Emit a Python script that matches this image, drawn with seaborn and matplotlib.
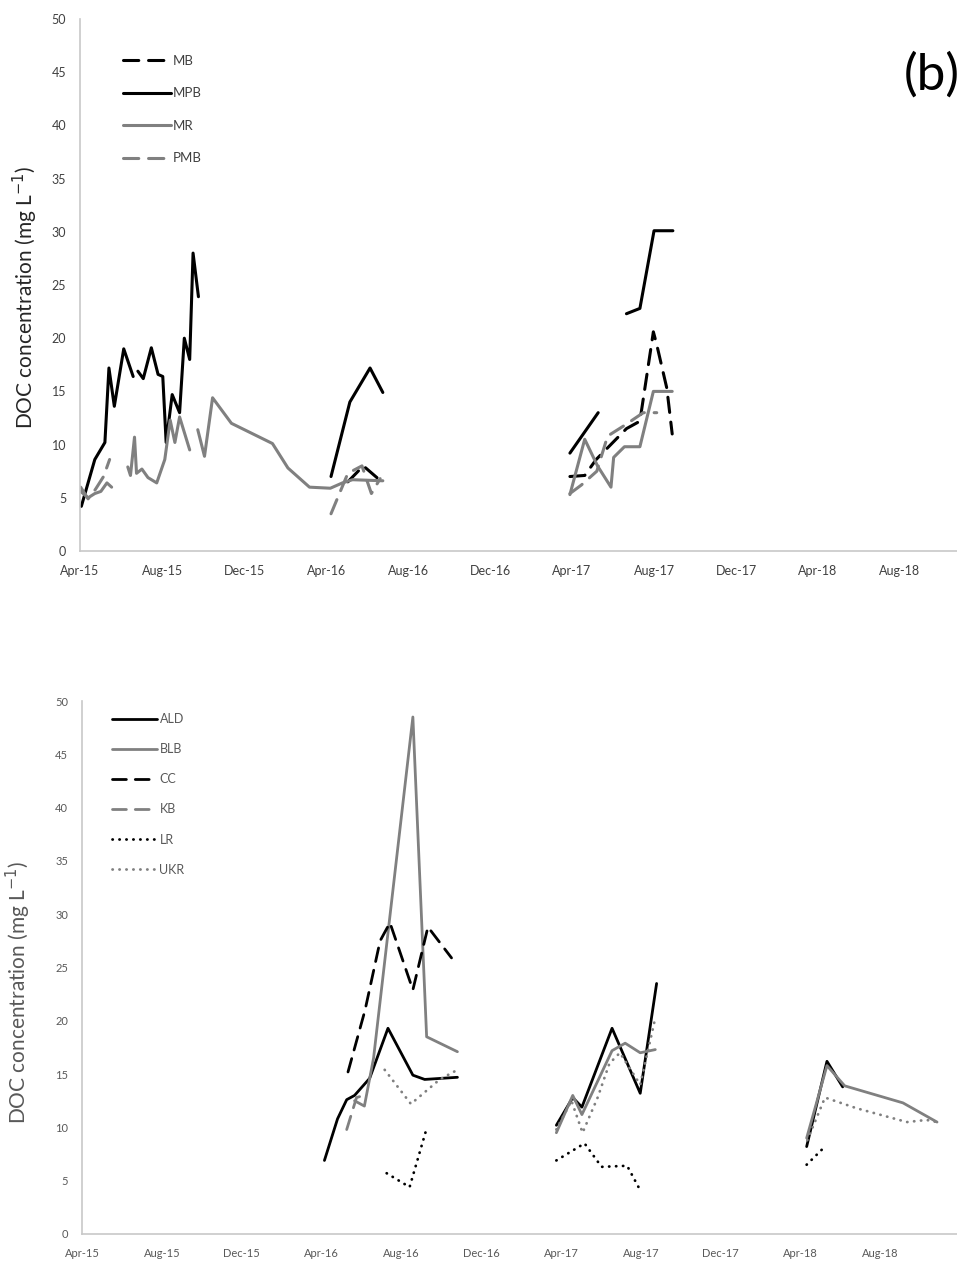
import numpy as np
import pandas as pd
import matplotlib
matplotlib.use("Agg")
import matplotlib.pyplot as plt
import matplotlib.dates as mdates
from matplotlib.lines import Line2D
import seaborn as sns

# ---------------------------------------------------------------
# DOC concentrations (mg L-1); None marks a break in a record
# ---------------------------------------------------------------
# Upper panel
MB_DATES = ["2016-05-03", "2016-05-26", "2016-06-17", None,
            "2017-03-29", "2017-04-20", "2017-05-07", "2017-06-21", "2017-07-11",
            "2017-07-31", "2017-08-05", "2017-08-20", "2017-08-28"]
MB_DOC = [6.5, 8.0, 6.8, None,
          7.0, 7.1, 8.6, 11.5, 12.2, 20.6, 19.4, 15.3, 11.0]

MPB_DATES = ["2015-04-03", "2015-04-23", "2015-05-08", "2015-05-14", "2015-05-22",
             "2015-06-05", "2015-06-19", None,
             "2015-06-26", "2015-07-04", "2015-07-16", "2015-07-26", "2015-08-02",
             "2015-08-07", "2015-08-16", "2015-08-27", "2015-09-03", "2015-09-11",
             "2015-09-16", "2015-09-24", None,
             "2016-04-08", "2016-05-06", "2016-06-05", "2016-06-24", None,
             "2017-03-29", "2017-05-10", None,
             "2017-06-21", "2017-07-11", "2017-08-01", "2017-08-29"]
MPB_DOC = [4.2, 8.6, 10.2, 17.2, 13.6, 19.0, 16.4, None,
           16.9, 16.2, 19.1, 16.6, 16.4, 10.2, 14.7, 13.0, 20.0, 18.0, 28.0, 23.9, None,
           7.0, 14.0, 17.2, 14.9, None,
           9.2, 13.0, None,
           22.3, 22.8, 30.1, 30.1]

MR_DATES = ["2015-04-02", "2015-04-13", "2015-04-23", "2015-05-02", "2015-05-11",
            "2015-05-18", None,
            "2015-06-11", "2015-06-15", "2015-06-21", "2015-06-24", "2015-07-02",
            "2015-07-11", "2015-07-24", "2015-08-05", "2015-08-13", "2015-08-20",
            "2015-08-27", "2015-09-11", None,
            "2015-09-23", "2015-10-03", "2015-10-15", "2015-11-12", "2016-01-12",
            "2016-02-04", "2016-03-07", "2016-04-07", "2016-04-25", "2016-05-10",
            "2016-06-24", None,
            "2017-03-29", "2017-04-20", "2017-05-09", "2017-05-29", "2017-06-02",
            "2017-06-18", "2017-07-11", "2017-07-31", "2017-08-28"]
MR_DOC = [5.6, 5.0, 5.4, 5.6, 6.4, 6.0, None,
          7.9, 7.1, 10.7, 7.3, 7.7, 6.9, 6.4, 8.6, 12.3, 10.2, 12.6, 9.5, None,
          11.4, 8.9, 14.4, 12.0, 10.1, 7.8, 6.0, 5.9, 6.4, 6.7, 6.6, None,
          5.3, 10.5, 8.0, 6.0, 8.8, 9.8, 9.8, 15.0, 15.0]

PMB_DATES = ["2015-04-02", "2015-04-13", "2015-04-24", "2015-05-06", "2015-05-15", None,
             "2016-04-08", "2016-05-03", "2016-05-24", "2016-06-07", "2016-06-20", None,
             "2017-03-29", "2017-04-15", "2017-05-08", "2017-05-24", "2017-06-18",
             "2017-07-16", "2017-08-05"]
PMB_DOC = [6.0, 4.9, 5.8, 7.0, 8.6, None,
           3.5, 7.3, 8.0, 5.4, 6.8, None,
           5.4, 6.2, 7.5, 10.8, 11.8, 13.0, 13.0]

# Lower panel
ALD_DATES = ["2016-04-05", "2016-04-25", "2016-05-09", "2016-05-21", "2016-06-13",
             "2016-07-11", "2016-08-18", "2016-09-05", "2016-10-25", None,
             "2017-03-25", "2017-04-19", "2017-05-03", "2017-06-18", "2017-07-31",
             "2017-08-25", None,
             "2018-04-11", "2018-05-12", "2018-06-05"]
ALD_DOC = [6.9, 10.8, 12.6, 13.0, 14.6, 19.3, 14.9, 14.5, 14.7, None,
           10.2, 12.8, 11.9, 19.3, 13.2, 23.5, None,
           8.2, 16.2, 13.8]

BLB_DATES = ["2016-05-21", "2016-06-05", "2016-06-19", "2016-08-18", "2016-09-08",
             "2016-10-25", None,
             "2017-03-25", "2017-04-19", "2017-05-03", "2017-06-18", "2017-07-08",
             "2017-07-31", "2017-08-23", None,
             "2018-04-11", "2018-05-12", "2018-06-08", "2018-09-05", "2018-10-27"]
BLB_DOC = [12.5, 12.0, 16.5, 48.5, 18.5, 17.1, None,
           9.5, 13.0, 11.2, 17.2, 17.9, 17.0, 17.3, None,
           9.0, 15.8, 13.9, 12.3, 10.5]

CC_DATES = ["2016-05-11", "2016-06-06", "2016-06-29", "2016-07-14", "2016-08-18",
            "2016-09-10", "2016-10-16"]
CC_DOC = [15.2, 21.0, 27.5, 29.2, 22.9, 28.8, 25.9]

KB_DATES = ["2016-05-09", "2016-05-24", "2016-06-04"]
KB_DOC = [9.8, 12.8, 13.0]

LR_DATES = ["2016-07-09", "2016-08-13", "2016-09-08", None,
            "2017-03-25", "2017-05-07", "2017-06-02", "2017-07-11", "2017-07-31", None,
            "2018-04-11", "2018-05-04"]
LR_DOC = [5.7, 4.4, 9.9, None,
          6.9, 8.5, 6.3, 6.4, 4.1, None,
          6.5, 7.9]

UKR_DATES = ["2016-07-06", "2016-08-15", "2016-09-28", "2016-10-25", None,
             "2017-03-25", "2017-04-17", "2017-05-04", "2017-05-27", "2017-06-14",
             "2017-06-30", "2017-07-31", "2017-08-22", None,
             "2018-04-12", "2018-05-09", "2018-06-26", "2018-09-11", "2018-10-11",
             "2018-10-27"]
UKR_DOC = [15.4, 12.2, 14.5, 15.4, None,
           9.8, 12.5, 9.5, 12.8, 16.0, 17.0, 14.0, 20.0, None,
           8.8, 12.8, 11.8, 10.5, 10.7, 10.5]

Y_TICKS = list(range(0, 51, 5))
X_START = "2015-04-01"
TOP_X_END, BOTTOM_X_END = "2018-11-15", "2018-11-28"

BLACK, GREY = "#000000", "#808080"
SOLID, DASH, DOT = "", (5, 3.2), (0.1, 2.4)

TOP_SITES = {
    "MB": (MB_DATES, MB_DOC, BLACK, DASH),
    "MPB": (MPB_DATES, MPB_DOC, BLACK, SOLID),
    "MR": (MR_DATES, MR_DOC, GREY, SOLID),
    "PMB": (PMB_DATES, PMB_DOC, GREY, DASH),
}
BOTTOM_SITES = {
    "ALD": (ALD_DATES, ALD_DOC, BLACK, SOLID),
    "BLB": (BLB_DATES, BLB_DOC, GREY, SOLID),
    "CC": (CC_DATES, CC_DOC, BLACK, DASH),
    "KB": (KB_DATES, KB_DOC, GREY, DASH),
    "LR": (LR_DATES, LR_DOC, BLACK, DOT),
    "UKR": (UKR_DATES, UKR_DOC, GREY, DOT),
}


def long_table(sites):
    """Tidy table with a segment id that restarts after each None break."""
    rows = []
    for site, (dates, vals, _, _) in sites.items():
        seg = 0
        for d, v in zip(dates, vals):
            if d is None or v is None:
                seg += 1
                continue
            rows.append({"site": site, "date": pd.Timestamp(d), "doc": v,
                         "seg": f"{site}-{seg}"})
    return pd.DataFrame(rows)


sns.set_style("white")
plt.rcParams["font.family"] = ["Lato", "DejaVu Sans"]

W, H = 957, 1266
fig = plt.figure(figsize=(W / 100, H / 100), dpi=100)


def px_axes(left, bottom_y, top_y, right):
    return fig.add_axes([left / W, 1 - bottom_y / H, (right - left) / W,
                         (bottom_y - top_y) / H])


def draw_panel(ax, sites, x_end, lw, tick_fs, tick_col):
    df = long_table(sites)
    sns.lineplot(data=df, x="date", y="doc", hue="site", style="site",
                 units="seg", estimator=None, sort=False,
                 palette={k: v[2] for k, v in sites.items()},
                 dashes={k: v[3] for k, v in sites.items()},
                 linewidth=lw, dash_capstyle="round", solid_capstyle="round",
                 legend=False, ax=ax)
    ax.set_xlim(pd.Timestamp(X_START), pd.Timestamp(x_end))
    ax.set_ylim(0, 50)
    ax.set_yticks(Y_TICKS)
    ax.xaxis.set_major_locator(mdates.MonthLocator(bymonth=[4, 8, 12]))
    ax.xaxis.set_major_formatter(mdates.DateFormatter("%b-%y"))
    ax.set_xlabel("")
    ax.set_ylabel("")
    for s in ("top", "right"):
        ax.spines[s].set_visible(False)
    for s in ("left", "bottom"):
        ax.spines[s].set_color("#c8c8c8")
        ax.spines[s].set_linewidth(1.2)
    ax.tick_params(axis="both", direction="out", length=5, width=1,
                   color="#c8c8c8", labelsize=tick_fs, labelcolor=tick_col, pad=5)


def add_legend(ax, sites, anchor, fs, spacing, hlen, lw, col):
    handles = []
    for k, (_, _, c, d) in sites.items():
        ls = "-" if d == SOLID else (0, d)
        handles.append(Line2D([], [], color=c, lw=lw, linestyle=ls,
                              dash_capstyle="round", solid_capstyle="round"))
    ax.legend(handles, list(sites.keys()), loc="upper left",
              bbox_to_anchor=(anchor[0] / W, 1 - anchor[1] / H),
              bbox_transform=fig.transFigure, frameon=False, fontsize=fs,
              handlelength=hlen, handletextpad=0.2, labelspacing=spacing,
              borderpad=0, borderaxespad=0, labelcolor=col)


# Upper panel
ax1 = px_axes(80, 551, 19, 971)
draw_panel(ax1, TOP_SITES, TOP_X_END, 2.2, 9, "#404040")
add_legend(ax1, TOP_SITES, (123, 55), 9.5, 1.55, 3.6, 2.2, "#404040")
fig.text(25 / W, 1 - 297 / H, "DOC concentration (mg L$^{-1}$)", rotation=90,
         ha="center", va="center", fontsize=15, color="#262626")
fig.text(904 / W, 1 - 75 / H, "(b)", ha="left", va="center", fontsize=37,
         color="#000000")

# Lower panel
ax2 = px_axes(82, 1234, 701, 958)
draw_panel(ax2, BOTTOM_SITES, BOTTOM_X_END, 2.0, 8, "#595959")
add_legend(ax2, BOTTOM_SITES, (112, 713), 9, 1.45, 3.6, 2.0, "#595959")
fig.text(18 / W, 1 - 992 / H, "DOC concentration (mg L$^{-1}$)", rotation=90,
         ha="center", va="center", fontsize=15, color="#595959")

fig.savefig("out.png", dpi=100)
